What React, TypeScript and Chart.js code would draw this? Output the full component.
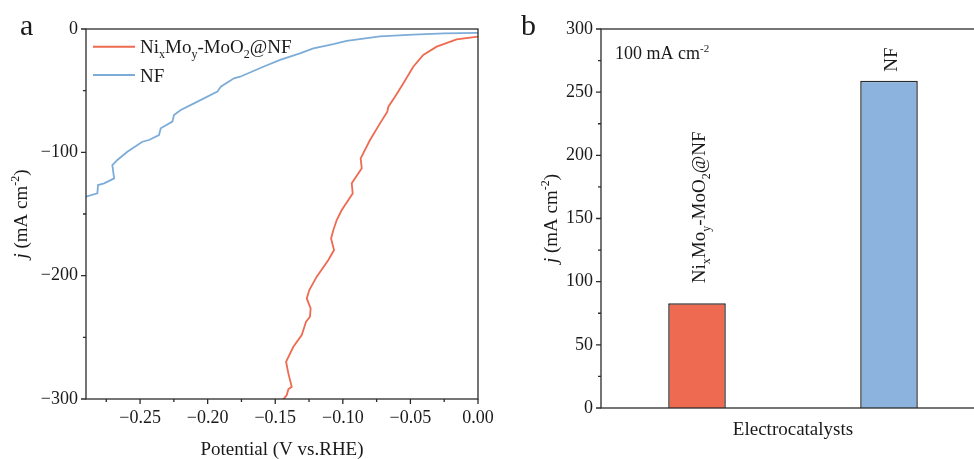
import React, { useEffect, useRef } from "react";
import { Chart, registerables } from "chart.js";

Chart.register(...registerables);

// ---------- data ----------
const nimoPotential = [
  -0.1445, -0.1415, -0.1403, -0.1378, -0.1403, -0.142, -0.1366, -0.1304, -0.1272, -0.1243,
  -0.1238, -0.1267, -0.1248, -0.1193, -0.1107, -0.1065, -0.1087, -0.107, -0.1045, -0.1008,
  -0.0959, -0.0927, -0.0934, -0.086, -0.0868, -0.0799, -0.0725, -0.0671, -0.0663, -0.0614,
  -0.0552, -0.0479, -0.0405, -0.0306, -0.0158, 0,
];
const nimoCurrent = [
  -300.9, -296.8, -292.2, -290.1, -279.2, -269.8, -257.7, -248.2, -237.4, -233.3,
  -226.5, -218.4, -211.7, -200.8, -187.3, -179.2, -169.8, -163.0, -154.9, -146.8,
  -138.7, -133.3, -125.1, -113.0, -104.9, -90.0, -76.5, -67.1, -63.0, -54.9,
  -44.0, -30.6, -21.1, -14.3, -8.4, -6.2,
];
const nfPotential = [
  -0.2902, -0.2816, -0.2811, -0.2766, -0.2692, -0.2705, -0.2668, -0.2594, -0.2483, -0.2434,
  -0.236, -0.2347, -0.2261, -0.2249, -0.2199, -0.2101, -0.1928, -0.1903, -0.1805, -0.176,
  -0.1588, -0.1464, -0.1317, -0.1218, -0.107, -0.0971, -0.0725, -0.0479, -0.025, 0,
];
const nfCurrent = [
  -136.0, -133.3, -126.5, -125.1, -121.1, -110.3, -106.2, -99.5, -91.4, -90.0,
  -86.0, -80.5, -75.1, -69.7, -65.7, -60.3, -50.8, -46.8, -40.0, -38.7,
  -30.6, -25.1, -19.7, -15.7, -12.2, -9.6, -6.0, -4.5, -3.6, -3.2,
];
const lsvSeriesNames = ["Ni_xMo_y-MoO_2@NF", "NF"];
const lsvXMajor = [-0.25, -0.2, -0.15, -0.1, -0.05, 0];
const lsvXMinor = [-0.275, -0.225, -0.175, -0.125, -0.075, -0.025];
const lsvYMajor = [-300, -200, -100, 0];
const lsvYMinor = [-250, -150, -50];

const barCategories = ["Ni_xMo_y-MoO_2@NF", "NF"];
const barValues = [83, 259];
const barYMajor = [0, 50, 100, 150, 200, 250, 300];
const barYMinor = [25, 75, 125, 175, 225, 275];

// ---------- styles ----------
const FONT = '"Liberation Serif", "Times New Roman", serif';
const TEXT = "#1a1a1a";
const AXIS = "#2b2b2b";
const RED = "#EE6A50";
const BLUE_LINE = "#7DACD9";
const BAR_BLUE = "#8BB3DD";

type Seg = { t: string; italic?: boolean; sub?: boolean; sup?: boolean };

function parseRich(s: string): Seg[] {
  const segs: Seg[] = [];
  let buf = "";
  let i = 0;
  while (i < s.length) {
    const c = s[i];
    if ((c === "_" || c === "^") && i + 1 < s.length) {
      if (buf) segs.push({ t: buf });
      buf = "";
      let txt = "";
      if (s[i + 1] === "{") {
        const end = s.indexOf("}", i + 2);
        txt = s.slice(i + 2, end);
        i = end + 1;
      } else {
        txt = s[i + 1];
        i += 2;
      }
      segs.push(c === "_" ? { t: txt, sub: true } : { t: txt, sup: true });
    } else {
      buf += c;
      i++;
    }
  }
  if (buf) segs.push({ t: buf });
  return segs;
}

function fontFor(seg: Seg, size: number) {
  const sz = seg.sub || seg.sup ? Math.round(size * 0.62) : size;
  return `${seg.italic ? "italic " : ""}${sz}px ${FONT}`;
}

function drawRich(ctx: CanvasRenderingContext2D, segs: Seg[], x: number, y: number, size: number, align: "left" | "center") {
  ctx.textAlign = "left";
  ctx.textBaseline = "alphabetic";
  const widths = segs.map((s) => {
    ctx.font = fontFor(s, size);
    return ctx.measureText(s.t).width;
  });
  const total = widths.reduce((a, b) => a + b, 0);
  let cx = align === "center" ? x - total / 2 : x;
  segs.forEach((s, i) => {
    ctx.font = fontFor(s, size);
    const dy = s.sub ? size * 0.24 : s.sup ? -size * 0.4 : 0;
    ctx.fillText(s.t, cx, y + dy);
    cx += widths[i];
  });
}

const jTitle: Seg[] = [{ t: "j", italic: true }, ...parseRich(" (mA cm^{-2})")];

function fmtMinus(v: number, digits: number) {
  if (Math.abs(v) < 1e-9) return digits ? (0).toFixed(digits) : "0";
  const s = Math.abs(v).toFixed(digits);
  return v < 0 ? "\u2212" + s : s;
}

const lsvDecor = {
  id: "lsvDecor",
  afterDraw(chart: any) {
    const { ctx, chartArea: a } = chart;
    const x = chart.scales.x;
    const y = chart.scales.y;
    ctx.save();
    ctx.strokeStyle = AXIS;
    ctx.lineWidth = 1.3;
    ctx.strokeRect(a.left, a.top, a.right - a.left, a.bottom - a.top);
    ctx.beginPath();
    lsvXMajor.forEach((v) => { const p = x.getPixelForValue(v); ctx.moveTo(p, a.bottom); ctx.lineTo(p, a.bottom + 5); });
    lsvXMinor.forEach((v) => { const p = x.getPixelForValue(v); ctx.moveTo(p, a.bottom); ctx.lineTo(p, a.bottom + 3); });
    lsvYMajor.forEach((v) => { const p = y.getPixelForValue(v); ctx.moveTo(a.left, p); ctx.lineTo(a.left - 5, p); });
    lsvYMinor.forEach((v) => { const p = y.getPixelForValue(v); ctx.moveTo(a.left, p); ctx.lineTo(a.left - 3, p); });
    ctx.stroke();

    ctx.fillStyle = TEXT;
    ctx.font = `30px ${FONT}`;
    ctx.textAlign = "left";
    ctx.textBaseline = "alphabetic";
    ctx.fillText("a", 20, 35);

    // legend
    chart.data.datasets.forEach((ds: any, i: number) => {
      const ly = a.top + 17.7 + i * 28.3;
      ctx.strokeStyle = ds.borderColor;
      ctx.lineWidth = 2;
      ctx.beginPath();
      ctx.moveTo(a.left + 7, ly);
      ctx.lineTo(a.left + 49, ly);
      ctx.stroke();
      ctx.fillStyle = TEXT;
      drawRich(ctx, parseRich(lsvSeriesNames[i]), a.left + 54, ly + 6.5, 19, "left");
    });

    ctx.fillStyle = TEXT;
    drawRich(ctx, [{ t: "Potential (V vs.RHE)" }], (a.left + a.right) / 2, 455, 19, "center");
    ctx.translate(27, (a.top + a.bottom) / 2);
    ctx.rotate(-Math.PI / 2);
    drawRich(ctx, jTitle, 0, 0, 19, "center");
    ctx.restore();
  },
};

const barDecor = {
  id: "barDecor",
  afterDraw(chart: any) {
    const { ctx, chartArea: a } = chart;
    const y = chart.scales.y;
    ctx.save();
    ctx.strokeStyle = AXIS;
    ctx.lineWidth = 1.3;
    ctx.strokeRect(a.left, a.top, a.right - a.left, a.bottom - a.top);
    ctx.beginPath();
    barYMajor.forEach((v) => { const p = y.getPixelForValue(v); ctx.moveTo(a.left, p); ctx.lineTo(a.left - 5, p); });
    barYMinor.forEach((v) => { const p = y.getPixelForValue(v); ctx.moveTo(a.left, p); ctx.lineTo(a.left - 3, p); });
    ctx.stroke();

    ctx.fillStyle = TEXT;
    ctx.font = `30px ${FONT}`;
    ctx.textAlign = "left";
    ctx.textBaseline = "alphabetic";
    ctx.fillText("b", 31, 35);

    drawRich(ctx, parseRich("100 mA cm^{-2}"), a.left + 14, a.top + 30, 18, "left");

    const gaps = [20, 9];
    const meta = chart.getDatasetMeta(0);
    meta.data.forEach((el: any, i: number) => {
      ctx.save();
      ctx.translate(el.x + 8, el.y - gaps[i]);
      ctx.rotate(-Math.PI / 2);
      ctx.fillStyle = TEXT;
      drawRich(ctx, parseRich(barCategories[i]), 0, 0, 19, "left");
      ctx.restore();
    });

    ctx.fillStyle = TEXT;
    drawRich(ctx, [{ t: "Electrocatalysts" }], (a.left + a.right) / 2, 435, 19, "center");
    ctx.translate(67, (a.top + a.bottom) / 2);
    ctx.rotate(-Math.PI / 2);
    drawRich(ctx, jTitle, 0, 0, 19, "center");
    ctx.restore();
  },
};

export default function App() {
  const aRef = useRef<HTMLCanvasElement>(null);
  const bRef = useRef<HTMLCanvasElement>(null);

  useEffect(() => {
    Chart.defaults.font.family = FONT;
    const tickFont = { family: FONT, size: 18 };

    const chartA = new Chart(aRef.current!, {
      type: "line",
      data: {
        datasets: [
          {
            label: "NixMoy-MoO2@NF",
            data: nimoPotential.map((v, i) => ({ x: v, y: nimoCurrent[i] })),
            borderColor: RED,
            borderWidth: 1.8,
            pointRadius: 0,
            tension: 0,
            fill: false,
          },
          {
            label: "NF",
            data: nfPotential.map((v, i) => ({ x: v, y: nfCurrent[i] })),
            borderColor: BLUE_LINE,
            borderWidth: 1.8,
            pointRadius: 0,
            tension: 0,
            fill: false,
          },
        ],
      },
      options: {
        animation: false,
        responsive: false,
        devicePixelRatio: 1,
        layout: { padding: { left: 0, top: 29, right: 22, bottom: 0 } },
        plugins: { legend: { display: false }, tooltip: { enabled: false } },
        scales: {
          x: {
            type: "linear",
            min: -0.29,
            max: 0,
            grid: { display: false, drawTicks: false },
            border: { display: false },
            afterBuildTicks: (s: any) => { s.ticks = lsvXMajor.map((v) => ({ value: v })); },
            afterFit: (s: any) => { s.height = 60; s.paddingLeft = 0; s.paddingRight = 0; },
            ticks: { padding: 8, font: tickFont, color: TEXT, maxRotation: 0, autoSkip: false, callback: (v: any) => fmtMinus(Number(v), 2) },
          },
          y: {
            type: "linear",
            min: -300,
            max: 0,
            grid: { display: false, drawTicks: false },
            border: { display: false },
            afterBuildTicks: (s: any) => { s.ticks = lsvYMajor.map((v) => ({ value: v })); },
            afterFit: (s: any) => { s.width = 86; s.paddingTop = 0; s.paddingBottom = 0; },
            ticks: { padding: 8, font: tickFont, color: TEXT, autoSkip: false, callback: (v: any) => fmtMinus(Number(v), 0) },
          },
        },
      } as any,
      plugins: [lsvDecor],
    });

    const chartB = new Chart(bRef.current!, {
      type: "bar",
      data: {
        labels: barCategories.map((c) => c.replace(/_/g, "")),
        datasets: [
          {
            data: barValues,
            backgroundColor: [RED, BAR_BLUE],
            borderColor: "#2a2a2a",
            borderWidth: 1.5,
            categoryPercentage: 1,
            barPercentage: 0.3,
          },
        ],
      },
      options: {
        animation: false,
        responsive: false,
        devicePixelRatio: 1,
        layout: { padding: { left: 0, top: 29, right: 15, bottom: 0 } },
        plugins: { legend: { display: false }, tooltip: { enabled: false } },
        scales: {
          x: {
            type: "category",
            grid: { display: false, drawTicks: false },
            border: { display: false },
            ticks: { display: false },
            afterFit: (s: any) => { s.height = 51; s.paddingLeft = 0; s.paddingRight = 0; },
          },
          y: {
            type: "linear",
            min: 0,
            max: 300,
            grid: { display: false, drawTicks: false },
            border: { display: false },
            afterBuildTicks: (s: any) => { s.ticks = barYMajor.map((v) => ({ value: v })); },
            afterFit: (s: any) => { s.width = 111; s.paddingTop = 0; s.paddingBottom = 0; },
            ticks: { padding: 8, font: tickFont, color: TEXT, autoSkip: false },
          },
        },
      } as any,
      plugins: [barDecor],
    });

    return () => {
      chartA.destroy();
      chartB.destroy();
    };
  }, []);

  return (
    <div style={{ position: "fixed", left: 0, top: 0, width: 974, height: 459, overflow: "hidden", background: "#fff" }}>
      <canvas ref={aRef} width={500} height={459} style={{ position: "absolute", left: 0, top: 0 }} />
      <canvas ref={bRef} width={510} height={459} style={{ position: "absolute", left: 490, top: 0 }} />
    </div>
  );
}
